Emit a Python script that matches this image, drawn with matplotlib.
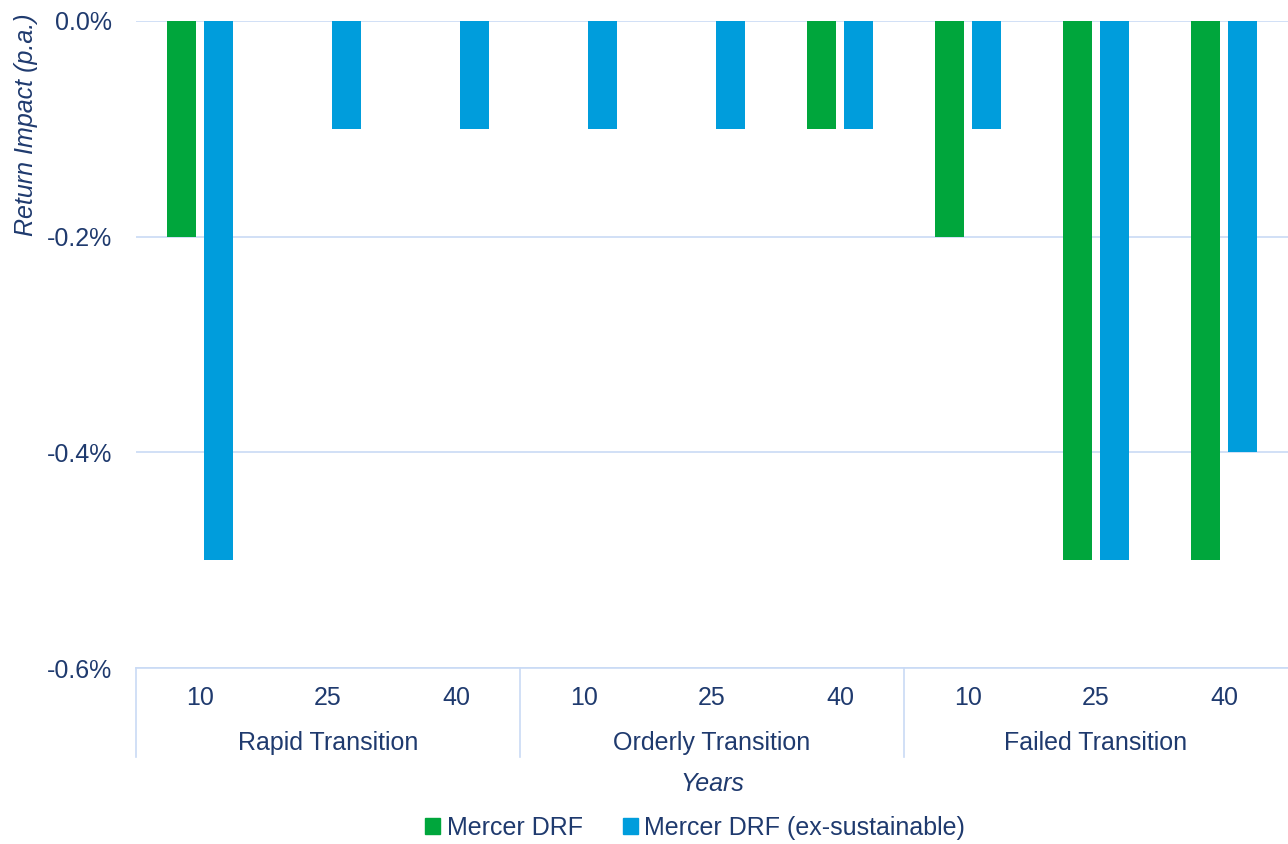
import matplotlib.pyplot as plt
from matplotlib.patches import Patch
from matplotlib.ticker import FuncFormatter

plt.rcParams["font.family"] = ["Liberation Sans", "DejaVu Sans"]

# scenario / horizon labels (two-level category axis)
scenarios = ["Rapid Transition", "Orderly Transition", "Failed Transition"]
years = ["10", "25", "40"]

# return impact in % p.a.
drf = [-0.2, 0.0, 0.0, 0.0, 0.0, -0.1, -0.2, -0.5, -0.5]
drf_ex_sust = [-0.5, -0.1, -0.1, -0.1, -0.1, -0.1, -0.1, -0.5, -0.4]

GREEN = "#00A63C"
BLUE = "#009DDC"
TEXT = "#1F3A6E"
GRID = "#C9DAF5"
FS = 18

fig = plt.figure(figsize=(12.88, 8.44), dpi=100)
ax = fig.add_axes([136 / 1288, 1 - 668 / 844, 1 - 136 / 1288, (668 - 21) / 844])

x = list(range(len(drf)))
w = 0.22
ax.bar([i - 0.145 for i in x], drf, width=w, color=GREEN, zorder=3)
ax.bar([i + 0.145 for i in x], drf_ex_sust, width=w, color=BLUE, zorder=3)

ax.set_xlim(-0.5, len(x) - 0.5)
ax.set_ylim(-0.6, 0.0)
ax.set_yticks([0.0, -0.2, -0.4, -0.6])
ax.yaxis.set_major_formatter(FuncFormatter(lambda v, _: f"{v:.1f}%"))
ax.tick_params(axis="y", length=0, pad=17, labelsize=FS, labelcolor=TEXT)
ax.set_xticks([])
ax.grid(axis="y", color=GRID, linewidth=1.2, zorder=0)
for s in ["left", "right", "top"]:
    ax.spines[s].set_visible(False)
ax.spines["bottom"].set_color(GRID)
ax.spines["bottom"].set_linewidth(1.2)

ax.set_ylabel("Return Impact (p.a.)", fontsize=FS, style="italic", color=TEXT)
ax.yaxis.set_label_coords(-0.0855, 0.84)

# two-level category labels below the axis
trans = ax.get_xaxis_transform()
for i in x:
    ax.text(i, -0.046, years[i % 3], transform=trans, ha="center",
            va="center", fontsize=FS, color=TEXT)
for g, name in enumerate(scenarios):
    ax.text(g * 3 + 1, -0.116, name, transform=trans, ha="center",
            va="center", fontsize=FS, color=TEXT)
for b in [-0.5, 2.5, 5.5]:
    ax.plot([b, b], [0, -0.138], transform=trans, color=GRID,
            linewidth=1.2, clip_on=False)

ax.text(0.5, -0.18, "Years", transform=ax.transAxes, ha="center",
        va="center", fontsize=FS, style="italic", color=TEXT)

handles = [Patch(color=GREEN, label="Mercer DRF"),
           Patch(color=BLUE, label="Mercer DRF (ex-sustainable)")]
leg = fig.legend(handles=handles, loc="center", ncol=2,
                 bbox_to_anchor=(695 / 1288, 1 - 828 / 844), frameon=False,
                 fontsize=FS, handlelength=0.6, handleheight=0.6,
                 handletextpad=0.25, columnspacing=1.6)
for t in leg.get_texts():
    t.set_color(TEXT)

fig.savefig("out.png", dpi=100)
